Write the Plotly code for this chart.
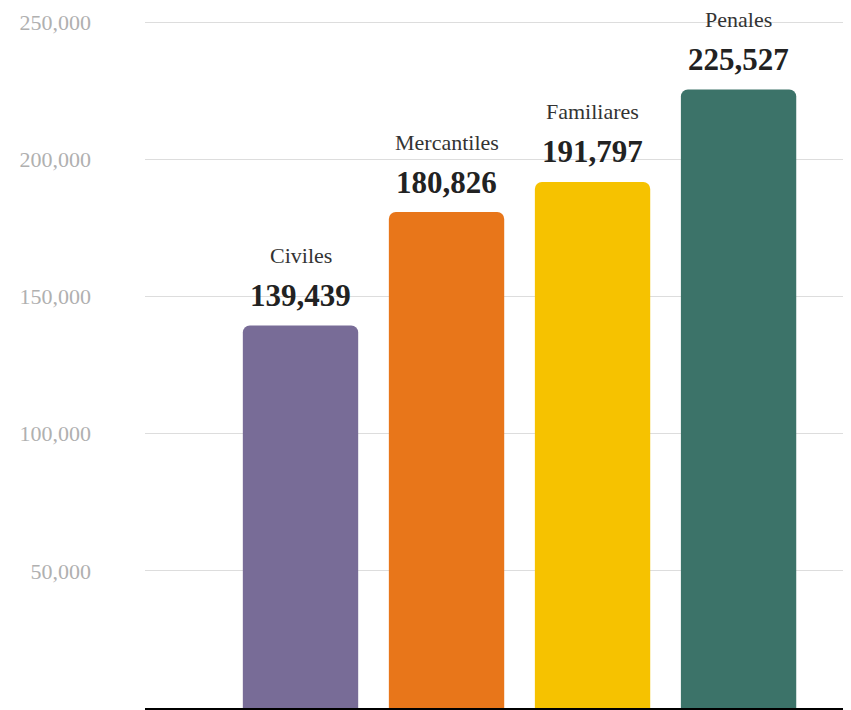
import plotly.graph_objects as go

categories = ["Civiles", "Mercantiles", "Familiares", "Penales"]
values = [139439, 180826, 191797, 225527]
colors = ["#786c97", "#e8761a", "#f6c200", "#3c7369"]
tick_vals = [50000, 100000, 150000, 200000, 250000]
tick_text = ["50,000", "100,000", "150,000", "200,000", "250,000"]

fig = go.Figure()
fig.add_trace(go.Bar(
    x=categories, y=values,
    marker=dict(color=colors, cornerradius=7, line=dict(width=0)),
    width=0.79, hoverinfo="skip",
))

for c, v in zip(categories, values):
    fig.add_annotation(x=c, y=v, text=f"<b>{v:,}</b>", showarrow=False,
                       yshift=30, font=dict(family="Liberation Serif", size=31, color="#222222"))
    fig.add_annotation(x=c, y=v, text=c, showarrow=False,
                       yshift=70, font=dict(family="Liberation Serif", size=22, color="#333333"))

fig.update_layout(
    width=843, height=702,
    margin=dict(l=137, r=0, t=0, b=2),
    plot_bgcolor="white", paper_bgcolor="white",
    showlegend=False,
    xaxis=dict(range=[-1.065, 3.77], showticklabels=False, showgrid=False,
               showline=True, linecolor="black", linewidth=3, ticks="", zeroline=False,
               fixedrange=True),
    yaxis=dict(range=[0, 255200], tickvals=tick_vals, ticktext=tick_text,
               showgrid=True, gridcolor="#dddddd", gridwidth=1, zeroline=False,
               ticklabelstandoff=53, tickfont=dict(family="Liberation Serif", size=22, color="#b0b0b0"),
               fixedrange=True),
)

fig.write_html("out.html")
